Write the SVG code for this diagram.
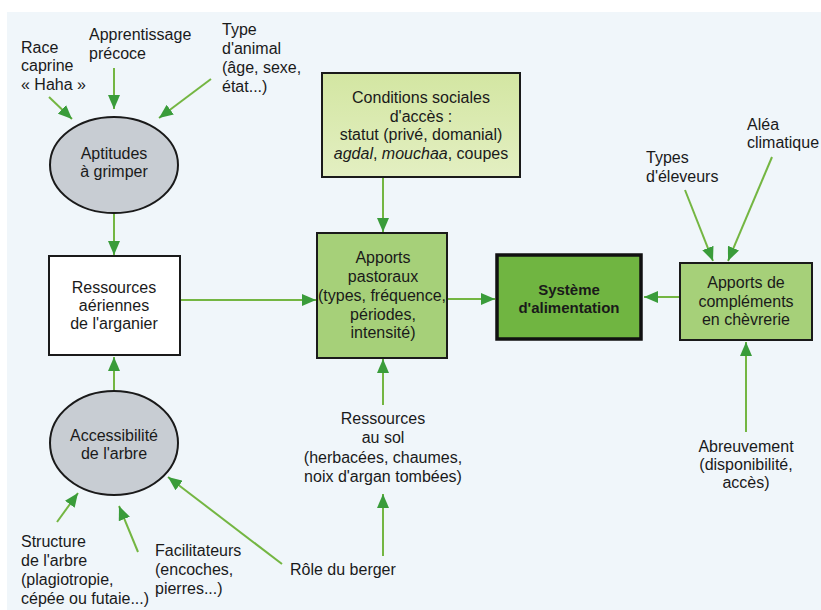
<svg xmlns="http://www.w3.org/2000/svg" width="821" height="610" viewBox="0 0 821 610">
<style>
.t{font-family:"Liberation Sans",Arial,sans-serif;font-size:16px;fill:#1a1a1a}
.m{text-anchor:middle}
.b{font-weight:bold;font-size:15px}
.c{fill:none;stroke:#74b642;stroke-width:2;marker-end:url(#ah)}
.box{stroke:#1a1a1a;stroke-width:2}
.ell{fill:#c8cdd3;stroke:#1a1a1a;stroke-width:2}
</style>
<defs>
<marker id="ah" viewBox="0 0 14 12" refX="14" refY="6" markerWidth="14" markerHeight="12" markerUnits="userSpaceOnUse" orient="auto">
<path d="M0,0 L14,6 L0,12 Z" fill="#3a9c3a"/>
</marker>
<linearGradient id="gc" x1="0" y1="0" x2="0" y2="1">
<stop offset="0" stop-color="#d3e6a2"/>
<stop offset="1" stop-color="#e3efc2"/>
</linearGradient>
</defs>
<rect x="0" y="0" width="821" height="610" fill="#ffffff"/>
<rect x="7" y="12" width="814" height="598" fill="#f0f6fa"/>

<g id="connectors">
<line class="c" x1="49" y1="97" x2="72" y2="119"/>
<line class="c" x1="114" y1="68" x2="114" y2="109"/>
<line class="c" x1="211" y1="79" x2="159" y2="118"/>
<line class="c" x1="114" y1="213" x2="114" y2="255"/>
<line class="c" x1="114" y1="391" x2="114" y2="357"/>
<line class="c" x1="180" y1="300" x2="316" y2="300"/>
<line class="c" x1="383" y1="177" x2="383" y2="232"/>
<line class="c" x1="383" y1="405" x2="383" y2="359"/>
<line class="c" x1="447" y1="299" x2="495" y2="299"/>
<line class="c" x1="680" y1="297" x2="644" y2="297"/>
<line class="c" x1="685" y1="190" x2="713" y2="261"/>
<line class="c" x1="772" y1="157" x2="728" y2="261"/>
<line class="c" x1="746" y1="432" x2="746" y2="342"/>
<line class="c" x1="57" y1="522" x2="78" y2="493"/>
<line class="c" x1="138" y1="552" x2="119" y2="506"/>
<line class="c" x1="282" y1="564" x2="168" y2="477"/>
<line class="c" x1="383" y1="556" x2="383" y2="494"/>
</g>

<g id="race">
<text class="t" x="21" y="53">Race</text>
<text class="t" x="21" y="71">caprine</text>
<text class="t" x="21" y="90">« Haha »</text>
</g>
<g id="apprentissage">
<text class="t" x="89" y="40">Apprentissage</text>
<text class="t" x="89" y="59">précoce</text>
</g>
<g id="type-animal">
<text class="t" x="222" y="35">Type</text>
<text class="t" x="222" y="54">d'animal</text>
<text class="t" x="222" y="73">(âge, sexe,</text>
<text class="t" x="222" y="92">état...)</text>
</g>
<g id="aptitudes">
<ellipse class="ell" cx="114" cy="165" rx="64" ry="48"/>
<text class="t m" x="114" y="159">Aptitudes</text>
<text class="t m" x="114" y="177">à grimper</text>
</g>
<g id="ressources-aeriennes">
<rect class="box" x="49" y="256" width="131" height="99" fill="#ffffff"/>
<text class="t m" x="114" y="293">Ressources</text>
<text class="t m" x="114" y="311">aériennes</text>
<text class="t m" x="114" y="329">de l'arganier</text>
</g>
<g id="accessibilite">
<ellipse class="ell" cx="114" cy="443" rx="64" ry="52"/>
<text class="t m" x="114" y="441">Accessibilité</text>
<text class="t m" x="114" y="459">de l'arbre</text>
</g>
<g id="structure">
<text class="t" x="21" y="547">Structure</text>
<text class="t" x="21" y="566">de l'arbre</text>
<text class="t" x="21" y="585">(plagiotropie,</text>
<text class="t" x="21" y="604">cépée ou futaie...)</text>
</g>
<g id="facilitateurs">
<text class="t" x="155" y="556">Facilitateurs</text>
<text class="t" x="155" y="575">(encoches,</text>
<text class="t" x="155" y="594">pierres...)</text>
</g>
<g id="role-berger">
<text class="t" x="290" y="575">Rôle du berger</text>
</g>
<g id="ressources-sol">
<text class="t m" x="383" y="424">Ressources</text>
<text class="t m" x="383" y="443">au sol</text>
<text class="t m" x="383" y="463">(herbacées, chaumes,</text>
<text class="t m" x="383" y="482">noix d'argan tombées)</text>
</g>
<g id="conditions">
<rect class="box" x="322" y="73" width="198" height="104" fill="url(#gc)"/>
<text class="t m" x="421" y="103">Conditions sociales</text>
<text class="t m" x="421" y="122">d'accès :</text>
<text class="t m" x="421" y="140">statut (privé, domanial)</text>
<text class="t m" x="421" y="159"><tspan font-style="italic">agdal</tspan>, <tspan font-style="italic">mouchaa</tspan>, coupes</text>
</g>
<g id="apports-pastoraux">
<rect class="box" x="317" y="233" width="130" height="125" fill="#a6d079"/>
<text class="t m" x="383" y="263">Apports</text>
<text class="t m" x="383" y="282">pastoraux</text>
<text class="t m" x="382" y="301">(types, fréquence,</text>
<text class="t m" x="383" y="320">périodes,</text>
<text class="t m" x="383" y="338">intensité)</text>
</g>
<g id="systeme">
<rect x="497" y="255" width="144" height="84" fill="#70b541" stroke="#111" stroke-width="3.5"/>
<text class="t m b" x="569" y="295">Système</text>
<text class="t m b" x="569" y="313">d'alimentation</text>
</g>
<g id="complements">
<rect class="box" x="680" y="263" width="132" height="77" fill="#a6d079"/>
<text class="t m" x="746" y="288">Apports de</text>
<text class="t m" x="746" y="307">compléments</text>
<text class="t m" x="746" y="325">en chèvrerie</text>
</g>
<g id="types-eleveurs">
<text class="t" x="646" y="163">Types</text>
<text class="t" x="646" y="182">d'éleveurs</text>
</g>
<g id="alea">
<text class="t" x="747" y="130">Aléa</text>
<text class="t" x="747" y="148">climatique</text>
</g>
<g id="abreuvement">
<text class="t m" x="746" y="452">Abreuvement</text>
<text class="t m" x="746" y="470">(disponibilité,</text>
<text class="t m" x="746" y="488">accès)</text>
</g>
</svg>
